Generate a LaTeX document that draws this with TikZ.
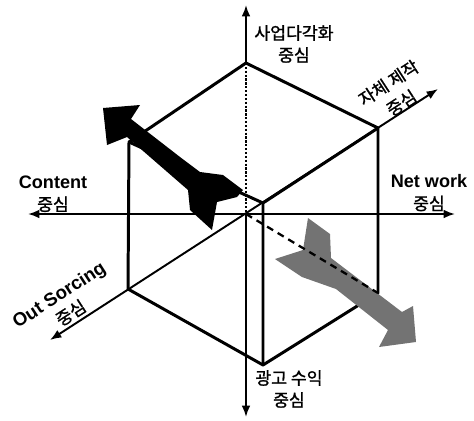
\documentclass[tikz,border=0pt]{standalone}
\usepackage{fontspec}
\setmainfont{Liberation Sans}
\newfontfamily\kr[FakeBold=1.2]{Noto Sans CJK KR}
\usetikzlibrary{arrows.meta}
\newcommand{\jungsim}{{\kr\mdseries\fontsize{9.8}{12.5}\selectfont 중심}}

\tikzset{
    axis/.style={line width=1.1pt},
    edge/.style={line width=1.7pt,line join=round},
    hidden/.style={line width=1.3pt,dash pattern=on 4pt off 3pt},
    dots/.style={line width=1.5pt,dash pattern=on 1.3pt off 0.9pt},
    krlab/.style={align=center,inner sep=0pt,font=\kr\fontsize{9.8}{12.5}\selectfont},
    enlab/.style={align=center,inner sep=0pt,font=\bfseries\fontsize{10.3}{12.5}\selectfont}
}

\begin{document}
\begin{tikzpicture}[x=0.02cm,y=-0.02cm,>={Latex[length=6.5pt,width=5pt]}]
    \useasboundingbox (0,0) rectangle (474,420);
    \coordinate (O) at (246,214);
    \coordinate (T) at (246,63);
    \coordinate (UR) at (378,128);
    \coordinate (LR) at (378,293);
    \coordinate (B) at (263,365);
    \coordinate (LL) at (128,289);
    \coordinate (UL) at (129,142);
    \coordinate (I) at (263,203);
    \coordinate (ytop) at (246,5);
    \coordinate (ybot) at (246,417);
    \coordinate (xl) at (28,214);
    \coordinate (xr) at (455,214);
    \coordinate (zl) at (50,340);
    \coordinate (zr) at (438,89);

    \draw[axis,<-] (ytop)--(T);
    \draw[dots] (T)--(O);
    \draw[axis,->] (O)--(ybot);
    \draw[axis,<->] (xl)--(xr);
    \draw[axis,<->] (zl)--(zr);
    \draw[edge] (T)--(UR)--(LR)--(B)--(LL)--(UL)--cycle;
    \draw[edge] (UL)--(I)--(UR) (I)--(B);

    \fill[black!55] (308,218)--(330,234)--(331,258)--(402,312)--(413,306)--(416,342)
        --(379,347)--(388,330)--(336,289)--(302,277)--(275,259)--(303,250)--cycle;
    \draw[hidden] (O)--(LR);
    \fill[black] (103,108)--(140,105)--(131,119)--(180,157)--(200,172)--(223,175)--(243,190)
        --(237,197)--(217,202)--(212,230)--(190,210)--(188,190)--(127,137)--(107,145)--cycle;

    \node[krlab] (ytoplab) at (294,44) {사업다각화\\중심};
    \node[krlab] (ybotlab) at (289,389) {광고 수익\\중심};
    \node[krlab,rotate=33,font=\kr\fontsize{9.8}{13.6}\selectfont] (zrlab) at (395,93) {자체 제작\\중심};
    \node[enlab] (xllab) at (53,194) {Content\\\jungsim};
    \node[enlab] (xrlab) at (429,193) {Net work\\\jungsim};
    \node[enlab,rotate=33,font=\bfseries\fontsize{10.6}{12.5}\selectfont] (zllab) at (65,304) {Out Sorcing\\\jungsim};
\end{tikzpicture}
\end{document}
